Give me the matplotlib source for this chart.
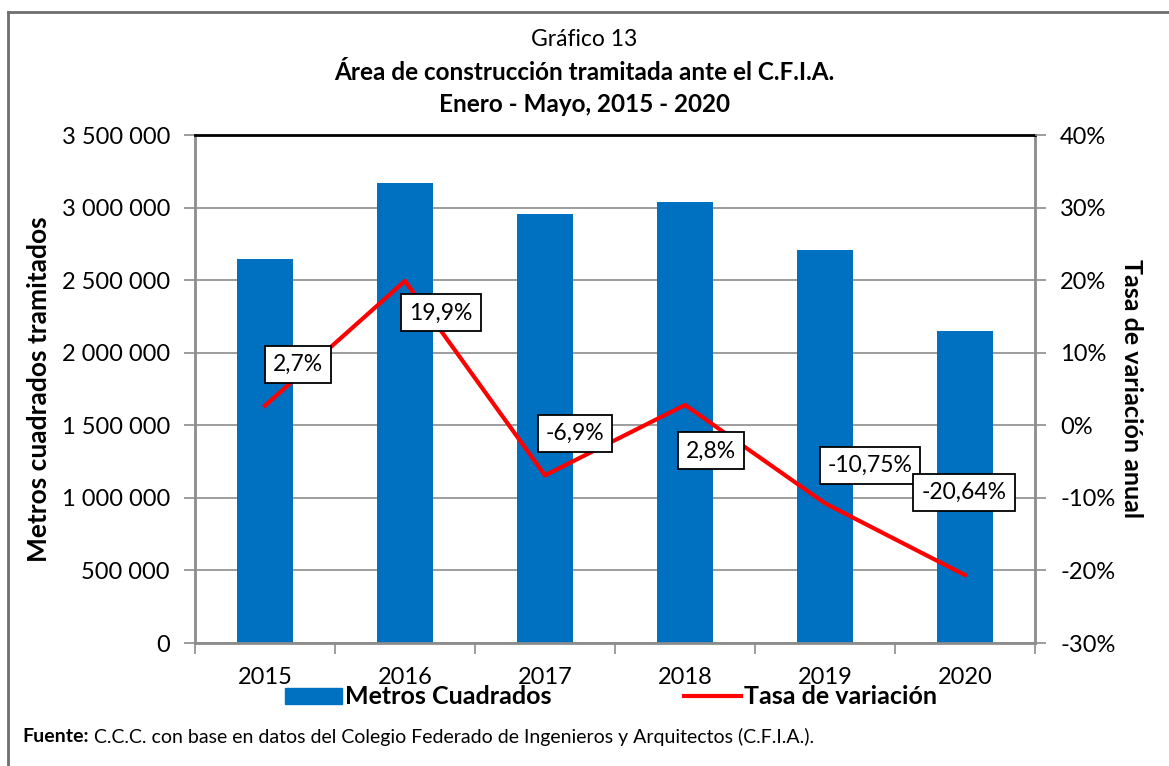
import matplotlib.pyplot as plt
from matplotlib.lines import Line2D
from matplotlib.patches import Patch
from matplotlib.ticker import FuncFormatter, FixedLocator

plt.rcParams['font.family'] = ['Lato', 'DejaVu Sans']

# data
years = ['2015', '2016', '2017', '2018', '2019', '2020']
metros = [2647000, 3170000, 2957000, 3039000, 2709000, 2152000]
tasa = [2.7, 19.9, -6.9, 2.8, -10.75, -20.64]
tasa_labels = ['2,7%', '19,9%', '-6,9%', '2,8%', '-10,75%', '-20,64%']
# label offsets from each point, in pixels
label_offsets = [(33, 41), (36, -32), (30, 42), (26, -46), (45, 38), (-1, 83)]

bar_color = '#0070C0'
line_color = '#FF0000'
grid_color = '#8c8c8c'

fig = plt.figure(figsize=(11.69, 7.66), dpi=100)
ax = fig.add_axes([195 / 1169, 1 - 643 / 766, 840 / 1169, 508 / 766])

x = list(range(len(years)))
ax.bar(x, metros, width=0.4, color=bar_color, zorder=2)
ax.set_xlim(-0.5, len(years) - 0.5)
ax.set_ylim(0, 3500000)
ax.set_yticks(range(0, 3500001, 500000))
ax.yaxis.set_major_formatter(FuncFormatter(lambda v, p: f"{v:,.0f}".replace(",", " ")))
ax.grid(axis='y', color=grid_color, lw=1.2, zorder=0)
ax.set_axisbelow(True)

ax.set_xticks(x)
ax.set_xticklabels(years)
ax.xaxis.set_minor_locator(FixedLocator([i - 0.5 for i in range(len(years) + 1)]))
ax.tick_params(axis='x', which='major', length=0, pad=17, labelsize=17)
ax.tick_params(axis='x', which='minor', length=8, color=grid_color, width=1.2)
ax.tick_params(axis='y', length=8, color=grid_color, width=1.2, labelsize=17, pad=10)

for s in ['left', 'bottom', 'right']:
    ax.spines[s].set_color(grid_color)
    ax.spines[s].set_linewidth(2)
ax.spines['top'].set_color('black')
ax.spines['top'].set_linewidth(2)

ax.set_ylabel('Metros cuadrados tramitados', fontsize=19, fontweight='bold', labelpad=8)

ax2 = ax.twinx()
ax2.plot(x, tasa, color=line_color, lw=3, zorder=3)
ax2.set_ylim(-30, 40)
ax2.set_yticks(range(-30, 41, 10))
ax2.yaxis.set_major_formatter(FuncFormatter(lambda v, p: f"{v:.0f}%"))
ax2.tick_params(axis='y', length=8, color=grid_color, width=1.2, labelsize=17, pad=10)
for s in ax2.spines.values():
    s.set_visible(False)
ax2.set_ylabel('Tasa de variación anual', fontsize=18, fontweight='bold',
               rotation=270, labelpad=20)

for xi, yi, lab, off in zip(x, tasa, tasa_labels, label_offsets):
    ax2.annotate(lab, (xi, yi), xytext=off, textcoords='offset pixels',
                 ha='center', va='center', fontsize=16.5, zorder=5,
                 bbox=dict(boxstyle='square,pad=0.35', fc='white', ec='black', lw=1.3))

# titles
fig.text(0.5, 1 - 40 / 766, 'Gráfico 13', ha='center', va='center', fontsize=16.5)
fig.text(0.5, 1 - 73 / 766, 'Área de construcción tramitada ante el C.F.I.A.',
         ha='center', va='center', fontsize=17.5, fontweight='bold')
fig.text(0.5, 1 - 104 / 766, 'Enero - Mayo, 2015 - 2020',
         ha='center', va='center', fontsize=17.5, fontweight='bold')

# legend
handles = [Patch(color=bar_color), Line2D([], [], color=line_color, lw=3)]
fig.legend(handles, ['Metros Cuadrados', 'Tasa de variación'], loc='center',
           bbox_to_anchor=(611 / 1169, 1 - 697 / 766), ncol=2, frameon=False,
           prop={'weight': 'bold', 'size': 18}, handlelength=2.3,
           handleheight=0.6, handletextpad=0.1, columnspacing=5.3,
           borderpad=0.1)

# footer
fy = 1 - 737 / 766
t1 = fig.text(22 / 1169, fy, 'Fuente:', ha='left', va='center', fontsize=14, fontweight='bold')
fig.canvas.draw()
bb = t1.get_window_extent()
fig.text((bb.x1 + 5) / 1169, fy,
         'C.C.C. con base en datos del Colegio Federado de Ingenieros y Arquitectos (C.F.I.A.).',
         ha='left', va='center', fontsize=14)

# outer frame (left and top sides visible)
fig.add_artist(Line2D([8 / 1169, 8 / 1169], [0, 1 - 12 / 766], color='#6e6e6e', lw=2))
fig.add_artist(Line2D([8 / 1169, 1], [1 - 12 / 766, 1 - 12 / 766], color='#6e6e6e', lw=2))

fig.savefig('out.png', dpi=100)
